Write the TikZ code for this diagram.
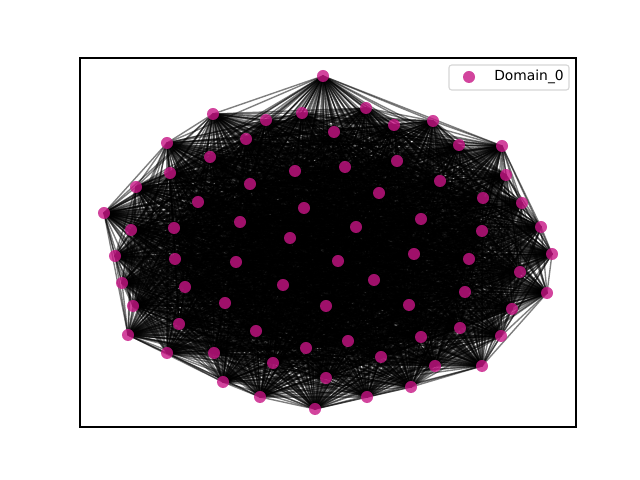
\documentclass[tikz,border=0pt]{standalone}
\usepackage{fontspec}
\setmainfont{DejaVu Sans}
\usepackage{xcolor}
\usepackage{tikz}
\usetikzlibrary{backgrounds}
\definecolor{DomainPink}{HTML}{C71585}
\definecolor{LegendGray}{HTML}{CCCCCC}
\tikzset{
    % Domain node (filled circle)
    domnode/.style={circle, fill=DomainPink, fill opacity=0.8, inner sep=0pt,
        minimum size=0.12in},
    % Edge between two nodes
    domedge/.style={black, draw opacity=0.5, line width=1pt},
    % Axes frame
    axframe/.style={draw=black, line width=0.8pt},
    % Legend box
    legendbox/.style={rectangle, rounded corners=2pt, draw=LegendGray, fill=white,
        fill opacity=0.8, draw opacity=0.8, line width=0.8pt,
        minimum width=1.2in, minimum height=0.25in},
    % Legend label
    legendtext/.style={font=\fontsize{10}{12}\selectfont, anchor=west, inner sep=0pt},
}

\begin{document}
\begin{tikzpicture}[x=0.01in, y=-0.01in]
    \useasboundingbox (0,0) rectangle (640,480);
    % nodes
    \foreach \x/\y [count=\i] in {323/76, 366/108, 302/113, 266/120, 213/114, 394/125,
        433/121, 334/132, 246/139, 167/143, 502/146, 459/145, 210/157, 397/161,
        345/167, 295/171, 170/173, 506/175, 440/181, 136/187, 250/184, 379/193,
        483/198, 198/202, 522/203, 104/213, 304/208, 421/219, 240/222, 131/230,
        174/228, 356/227, 482/231, 541/227, 290/238, 115/256, 175/259, 236/262,
        338/261, 414/254, 469/259, 552/254, 520/272, 122/283, 185/287, 283/285,
        374/280, 547/293, 465/292, 133/306, 225/303, 326/306, 409/305, 512/309,
        179/324, 256/331, 128/335, 348/341, 421/337, 460/328, 501/336, 306/348,
        167/353, 214/353, 273/363, 381/357, 435/366, 482/366, 223/382, 326/378,
        411/387, 260/397, 367/397, 315/409}
        \node[domnode] (n\i) at (\x,\y) {};
    % edges
    \begin{scope}[on background layer]
        \foreach \i in {1,...,73} {
            \pgfmathtruncatemacro\k{\i+1}
            \foreach \j in {\k,...,74}
                \draw[domedge] (n\i.center) -- (n\j.center);
        }
    \end{scope}
    % axes and legend
    \draw[axframe] (80,58) rectangle (576,427);
    \node[legendbox] (legend) at (509,77.5) {};
    \node[domnode] (legmark) at (469,77) {};
    \node[legendtext] (leglabel) at (494,77) {Domain\_0};
\end{tikzpicture}
\end{document}
